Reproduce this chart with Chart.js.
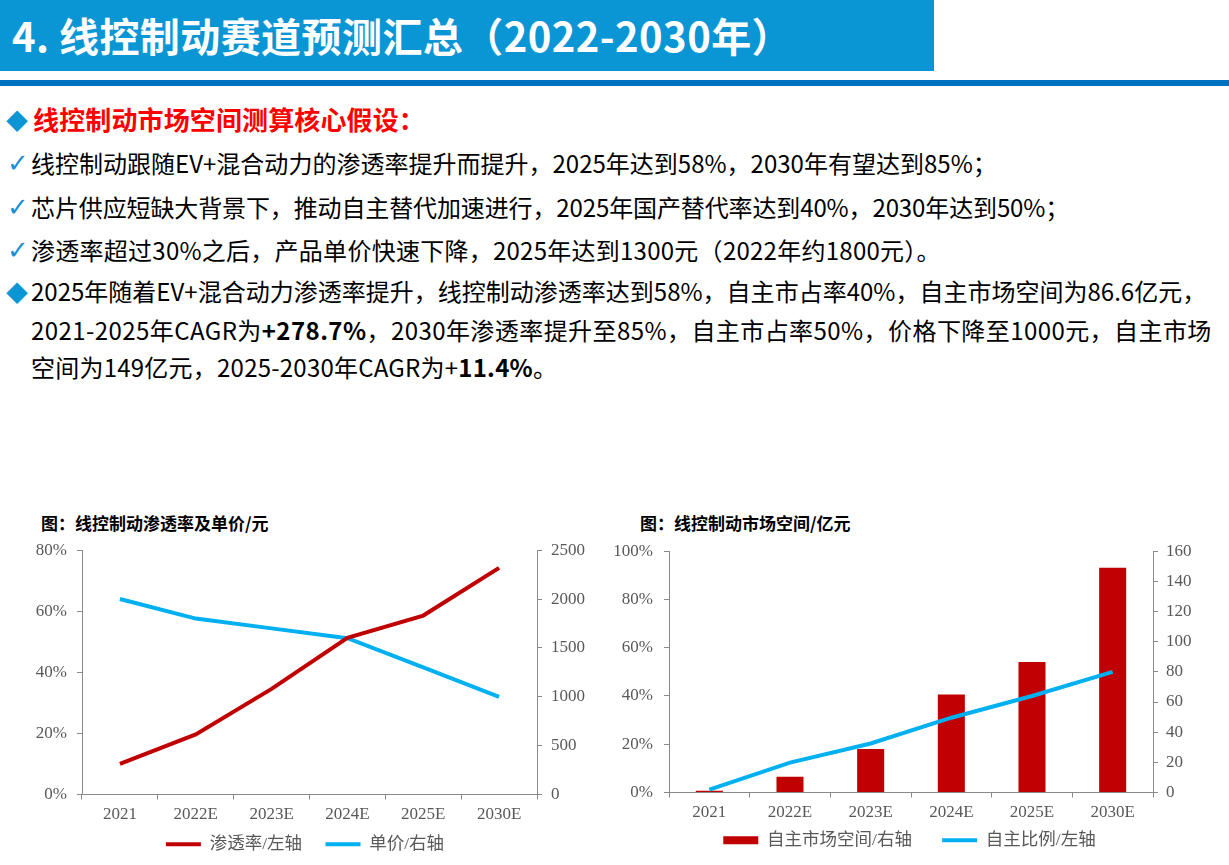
<!DOCTYPE html>
<html>
<head>
<meta charset="utf-8">
<script src="https://cdn.jsdelivr.net/npm/chart.js@4.4.1/dist/chart.umd.min.js"></script>
<style>
  body { margin: 0; width: 1229px; height: 865px; background: #fff; position: relative; overflow: hidden;
         font-family: "Noto Sans CJK SC", "Noto Sans", sans-serif; color: #000; }
  .hdr { position: absolute; left: 0; top: 0; width: 934px; height: 71px; background: #0A96D4; }
  .hdr span { position: absolute; left: 12px; top: 7px; color: #fff; font-weight: bold; font-size: 40px;
              line-height: 56px; white-space: nowrap; }
  .rule { position: absolute; left: 0; top: 80px; width: 1229px; height: 6px; background: #0070C0; }
  .ln { position: absolute; left: 31px; height: 32px; line-height: 32px; font-size: 24px; white-space: nowrap; }
  .mark { position: absolute; left: 6px; height: 32px; line-height: 32px; white-space: nowrap; }
  .chk { color: #1A8FD3; font-family: "DejaVu Sans", sans-serif; font-weight: bold; font-size: 26px; left: 7px; }
  .dia { color: #0A96D4; font-size: 22px; }
  .red { color: #FF0000; font-weight: bold; font-size: 26px; }
  .ctitle { position: absolute; font-weight: bold; font-size: 17px; line-height: 22px; white-space: nowrap; }
  .box { position: absolute; }
</style>
</head>
<body>
<div class="hdr"><span id="title">4. 线控制动赛道预测汇总（2022-2030年）</span></div>
<div class="rule"></div>

<div class="mark dia" style="top:103px">◆</div>
<div class="ln red" style="left:33px;top:103px" data-w="392">线控制动市场空间测算核心假设：</div>

<div class="mark chk" style="top:147px">✓</div>
<div class="ln" style="top:147px" data-w="966">线控制动跟随EV+混合动力的渗透率提升而提升，2025年达到58%，2030年有望达到85%；</div>
<div class="mark chk" style="top:191px">✓</div>
<div class="ln" style="top:191px" data-w="1038">芯片供应短缺大背景下，推动自主替代加速进行，2025年国产替代率达到40%，2030年达到50%；</div>
<div class="mark chk" style="top:234px">✓</div>
<div class="ln" style="top:234px" data-w="910">渗透率超过30%之后，产品单价快速下降，2025年达到1300元（2022年约1800元）。</div>
<div class="mark dia" style="top:275px">◆</div>
<div class="ln" style="top:275px" data-w="1175">2025年随着EV+混合动力渗透率提升，线控制动渗透率达到58%，自主市占率40%，自主市场空间为86.6亿元，</div>
<div class="ln" style="top:314px" data-w="1181">2021-2025年CAGR为<b>+278.7%</b>，2030年渗透率提升至85%，自主市占率50%，价格下降至1000元，自主市场</div>
<div class="ln" style="top:351px" data-w="526">空间为149亿元，2025-2030年CAGR为+<b>11.4%</b>。</div>

<div class="ctitle" style="left:41px;top:512px">图：线控制动渗透率及单价/元</div>
<div class="ctitle" style="left:640px;top:512px">图：线控制动市场空间/亿元</div>

<div class="box" style="left:20px;top:530px;width:580px;height:333px"><canvas id="leftChart"></canvas></div>
<div class="box" style="left:600px;top:530px;width:629px;height:329px"><canvas id="rightChart"></canvas></div>

<script>
const years = ["2021", "2022E", "2023E", "2024E", "2025E", "2030E"];
const penetrationRate = [10, 19.7, 34.6, 51.3, 58.6, 74.2];   // %, left axis
const unitPrice = [2000, 1800, 1700, 1600, 1300, 1000];       // 元, right axis
const domesticMarket = [1.1, 10.5, 28.8, 65, 86.6, 149];      // 亿元, right axis
const domesticShare = [1.2, 12.4, 20.3, 31, 40, 50];          // %, left axis

const leftTicks = { min: 0, max: 80, step: 20 };
const leftTicks1 = { min: 0, max: 2500, step: 500 };
const rightTicks = { min: 0, max: 100, step: 20 };
const rightTicks1 = { min: 0, max: 160, step: 20 };

const RED = "#C00000";
const BLUE = "#00B0F0";
const AXIS = "#898989";
const TEXT = "#595959";
const SERIF = "'Liberation Serif', 'Times New Roman', serif";
const LEGEND_FONT = "'Liberation Serif', 'Noto Sans CJK SC', serif";

// stretch each text line to the width it has in the slide
function fitWidth(el, target) {
  const chars = Array.from(el.textContent).length;
  const w = el.getBoundingClientRect().width;
  el.style.letterSpacing = ((target - w) / chars).toFixed(2) + "px";
}
document.querySelectorAll(".ln").forEach((el) => fitWidth(el, Number(el.dataset.w)));
fitWidth(document.getElementById("title"), 780);

function gridStyle() {
  return { drawOnChartArea: false, drawTicks: true, tickLength: 5, color: AXIS, lineWidth: 1 };
}

function valueAxis(position, range, width, pad, fmt) {
  return {
    position,
    min: range.min,
    max: range.max,
    afterFit: (scale) => { scale.width = width; },
    grid: gridStyle(),
    border: { color: AXIS, width: 1 },
    ticks: {
      stepSize: range.step,
      padding: pad,
      color: TEXT,
      font: { family: SERIF, size: 17 },
      callback: fmt
    }
  };
}

function catAxis() {
  return {
    type: "category",
    offset: true,
    afterFit: (scale) => { scale.height = 35; },
    grid: Object.assign(gridStyle(), { offset: true }),
    border: { color: AXIS, width: 1 },
    ticks: { padding: 5, color: TEXT, font: { family: SERIF, size: 17 }, maxRotation: 0 }
  };
}

// gap: extra em spaces after every legend entry but the last
function legendStyle(pad, gap) {
  return {
    position: "bottom",
    labels: {
      usePointStyle: true,
      pointStyleWidth: 35,
      boxHeight: 8,
      padding: pad,
      color: TEXT,
      font: { family: LEGEND_FONT, size: 17.5 },
      generateLabels: (chart) => {
        const items = Chart.defaults.plugins.legend.labels.generateLabels(chart);
        items.sort((a, b) => a.datasetIndex - b.datasetIndex);
        items.forEach((item, i) => {
          if (i < items.length - 1) item.text += gap;
        });
        return items;
      }
    }
  };
}

new Chart(document.getElementById("leftChart"), {
  type: "line",
  data: {
    labels: years,
    datasets: [
      {
        label: "渗透率/左轴",
        data: penetrationRate,
        yAxisID: "y",
        borderColor: RED,
        backgroundColor: RED,
        borderWidth: 4,
        pointRadius: 0,
        pointStyle: "line",
        tension: 0
      },
      {
        label: "单价/右轴",
        data: unitPrice,
        yAxisID: "y1",
        borderColor: BLUE,
        backgroundColor: BLUE,
        borderWidth: 4,
        pointRadius: 0,
        pointStyle: "line",
        tension: 0
      }
    ]
  },
  options: {
    responsive: true,
    maintainAspectRatio: false,
    animation: false,
    layout: { padding: { top: 19, bottom: 0, left: 0, right: 10 } },
    plugins: { legend: legendStyle(6, "\u2003"), tooltip: { enabled: false } },
    scales: {
      x: catAxis(),
      y: valueAxis("left", leftTicks, 62, 10, (v) => v + "%"),
      y1: valueAxis("right", leftTicks1, 53, 9, (v) => v)
    }
  }
});

new Chart(document.getElementById("rightChart"), {
  type: "bar",
  data: {
    labels: years,
    datasets: [
      {
        type: "bar",
        label: "自主市场空间/右轴",
        data: domesticMarket,
        yAxisID: "y1",
        backgroundColor: RED,
        borderWidth: 0,
        pointStyle: "rect",
        categoryPercentage: 1,
        barPercentage: 0.335,
        order: 1
      },
      {
        type: "line",
        label: "自主比例/左轴",
        data: domesticShare,
        yAxisID: "y",
        borderColor: BLUE,
        backgroundColor: BLUE,
        borderWidth: 4,
        pointRadius: 0,
        pointStyle: "line",
        tension: 0,
        order: 0
      }
    ]
  },
  options: {
    responsive: true,
    maintainAspectRatio: false,
    animation: false,
    layout: { padding: { top: 18, bottom: 0, left: 0, right: 10 } },
    plugins: { legend: legendStyle(4, "\u2003\u2002"), tooltip: { enabled: false } },
    scales: {
      x: catAxis(),
      y: valueAxis("left", rightTicks, 69, 11, (v) => v + "%"),
      y1: valueAxis("right", rightTicks1, 66, 8, (v) => v)
    }
  }
});
</script>
</body>
</html>
